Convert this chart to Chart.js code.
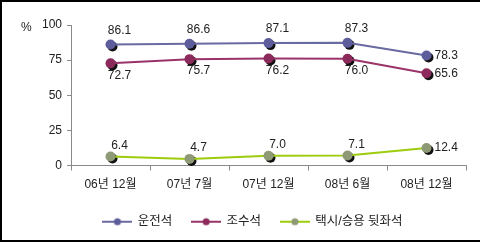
<!DOCTYPE html>
<html>
<head>
<meta charset="utf-8">
<script src="https://cdn.jsdelivr.net/npm/chart.js@4.4.1/dist/chart.umd.min.js"></script>
<style>
  html, body { margin: 0; padding: 0; background: #fff; }
  #wrap { width: 480px; height: 245px; position: relative; }
</style>
</head>
<body>
<div id="wrap"><canvas id="chart"></canvas></div>
<script>
const CATEGORIES = ['06년 12월', '07년 7월', '07년 12월', '08년 6월', '08년 12월'];
const DRIVER = [86.1, 86.6, 87.1, 87.3, 78.3];
const PASSENGER = [72.7, 75.7, 76.2, 76.0, 65.6];
const REAR_SEAT = [6.4, 4.7, 7.0, 7.1, 12.4];
const SERIES_NAMES = ['운전석', '조수석', '택시/승용 뒷좌석'];
const Y_TICKS = [0, 25, 50, 75, 100];

const LINE_COLORS = ['#6a6aa2', '#9a3367', '#9ccc0c'];
const MARKER_COLORS = ['#5d5d9c', '#8c2a5b', '#8e9a76'];
// where each series puts its value labels (last point always goes to the right)
const LABEL_POS = ['above', 'below', 'above'];

const FONT = '"Liberation Sans", "Noto Sans CJK KR", sans-serif';

function legendIcon(i) {
  const c = document.createElement('canvas');
  c.width = 30; c.height = 10;
  const g = c.getContext('2d');
  g.strokeStyle = LINE_COLORS[i];
  g.lineWidth = 2;
  g.beginPath(); g.moveTo(0, 5); g.lineTo(30, 5); g.stroke();
  g.fillStyle = MARKER_COLORS[i];
  g.beginPath(); g.arc(15, 5, 3.5, 0, Math.PI * 2); g.fill();
  return c;
}

const frame = {
  id: 'frame',
  beforeDraw(chart) {
    const ctx = chart.ctx;
    ctx.save();
    ctx.fillStyle = '#000';
    ctx.fillRect(0, 0, 480, 2);
    ctx.fillRect(0, 0, 2, 242);
    ctx.fillRect(0, 240, 480, 2);
    ctx.fillStyle = '#222';
    ctx.font = '12px ' + FONT;
    ctx.textAlign = 'left';
    ctx.textBaseline = 'middle';
    ctx.fillText('%', 21, 28);
    ctx.restore();
  }
};

const markerShadow = {
  id: 'markerShadow',
  beforeDatasetsDraw(chart) {
    const ctx = chart.ctx;
    ctx.save();
    ctx.fillStyle = '#111';
    chart.data.datasets.forEach((ds, i) => {
      chart.getDatasetMeta(i).data.forEach(pt => {
        ctx.beginPath();
        ctx.arc(pt.x + 2, pt.y + 2, 5, 0, Math.PI * 2);
        ctx.fill();
      });
    });
    ctx.restore();
  }
};

const valueLabels = {
  id: 'valueLabels',
  afterDatasetsDraw(chart) {
    const ctx = chart.ctx;
    ctx.save();
    ctx.fillStyle = '#222';
    ctx.font = '12px ' + FONT;
    ctx.textBaseline = 'middle';
    chart.data.datasets.forEach((ds, i) => {
      const pts = chart.getDatasetMeta(i).data;
      pts.forEach((pt, j) => {
        const txt = ds.data[j].toFixed(1);
        if (j === pts.length - 1) {
          ctx.textAlign = 'left';
          ctx.fillText(txt, pt.x + 8, pt.y);
        } else {
          ctx.textAlign = 'center';
          const dy = LABEL_POS[i] === 'above' ? (i === 0 ? -14 : -11) : 12;
          ctx.fillText(txt, pt.x + 9, pt.y + dy);
        }
      });
    });
    ctx.restore();
  }
};

const series = [DRIVER, PASSENGER, REAR_SEAT];

new Chart(document.getElementById('chart'), {
  type: 'line',
  data: {
    labels: CATEGORIES,
    datasets: series.map((vals, i) => ({
      label: SERIES_NAMES[i],
      data: vals,
      borderColor: LINE_COLORS[i],
      backgroundColor: MARKER_COLORS[i],
      pointBackgroundColor: MARKER_COLORS[i],
      pointBorderWidth: 0,
      pointRadius: 5,
      pointStyle: 'circle',
      borderWidth: 2,
      tension: 0
    }))
  },
  options: {
    responsive: true,
    maintainAspectRatio: false,
    animation: false,
    events: [],
    layout: { padding: { left: 40, right: 14, top: 25, bottom: 7 } },
    plugins: {
      tooltip: { enabled: false },
      legend: {
        position: 'bottom',
        labels: {
          usePointStyle: true,
          pointStyleWidth: 28,
          padding: 20,
          color: '#222',
          font: { size: 12.5, family: FONT },
          generateLabels(chart) {
            return chart.data.datasets.map((ds, i) => ({
              text: ds.label,
              pointStyle: legendIcon(i),
              fillStyle: MARKER_COLORS[i],
              strokeStyle: LINE_COLORS[i],
              lineWidth: 0,
              fontColor: '#222',
              datasetIndex: i
            }));
          }
        }
      }
    },
    scales: {
      x: {
        offset: true,
        afterFit(s) { s.height = 30; },
        grid: { offset: true, drawOnChartArea: false, tickLength: 5, color: '#8a8a8a' },
        border: { color: '#8a8a8a' },
        ticks: { padding: 7, color: '#222', font: { size: 12, family: FONT }, maxRotation: 0 }
      },
      y: {
        min: 0,
        max: 100,
        afterFit(s) { s.width = 31; },
        afterBuildTicks(s) { s.ticks = Y_TICKS.map(v => ({ value: v })); },
        grid: { drawOnChartArea: false, tickLength: 4, color: '#8a8a8a' },
        border: { color: '#8a8a8a' },
        ticks: { padding: 5, color: '#222', font: { size: 12, family: FONT } }
      }
    }
  },
  plugins: [frame, markerShadow, valueLabels]
});
</script>
</body>
</html>
